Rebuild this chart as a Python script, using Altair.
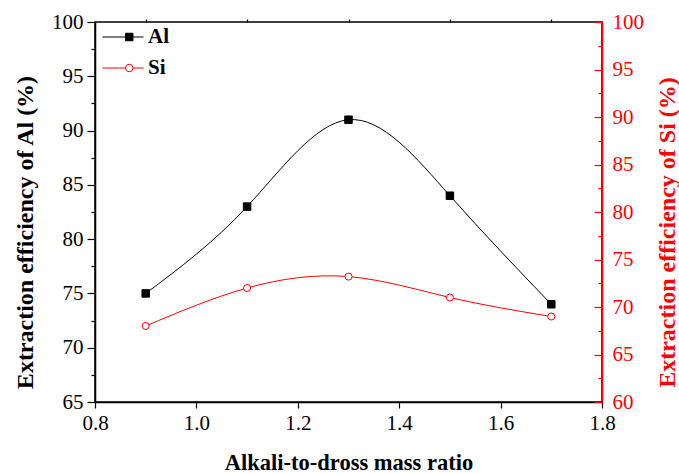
import altair as alt
import pandas as pd

ratio = [0.9, 1.1, 1.3, 1.5, 1.7]
al_eff = [75, 83, 91, 84, 74]
si_eff = [68, 72, 73.2, 71, 69]

x_major = [0.8, 1.0, 1.2, 1.4, 1.6, 1.8]
x_minor = [0.9, 1.1, 1.3, 1.5, 1.7]
al_major = [65, 70, 75, 80, 85, 90, 95, 100]
al_minor = [67.5, 72.5, 77.5, 82.5, 87.5, 92.5, 97.5]
si_major = [60, 65, 70, 75, 80, 85, 90, 95, 100]
si_minor = [62.5, 67.5, 72.5, 77.5, 82.5, 87.5, 92.5, 97.5]

df_al = pd.DataFrame({"ratio": ratio, "eff": al_eff, "series": "Al", "name": "Al-line"})
df_si = pd.DataFrame({"ratio": ratio, "eff": si_eff, "series": "Si", "name": "Si-line"})

FONT = "Liberation Serif"
RED = "#ff0000"
W, H = 507, 380

x_scale = alt.Scale(domain=[0.8, 1.8], nice=False, zero=False)
al_scale = alt.Scale(domain=[65, 100], nice=False, zero=False)
si_scale = alt.Scale(domain=[60, 100], nice=False, zero=False)

x_main = alt.X("ratio:Q", scale=x_scale, axis=alt.Axis(
    title="Alkali-to-dross mass ratio", values=x_major, format=".1f",
    labelFlush=False, labelOverlap=False, grid=False, tickSize=6, labelPadding=4,
    titleFontSize=22.5, titleY=67, titleBaseline="alphabetic"))
x_min = alt.X("ratio:Q", scale=x_scale, axis=alt.Axis(
    title=None, values=x_minor, labels=False, domain=False, grid=False, tickSize=3))
x_none = alt.X("ratio:Q", scale=x_scale, axis=None)

y_al_main = alt.Y("eff:Q", scale=al_scale, axis=alt.Axis(
    title="Extraction efficiency of Al (%)", orient="left", values=al_major, format="d",
    labelFlush=False, labelOverlap=False, grid=False, tickSize=8, labelPadding=4,
    titleFontSize=24, titleAngle=270, titleX=-70, titleY=210, titleBaseline="middle"))
y_al_min = alt.Y("eff:Q", scale=al_scale, axis=alt.Axis(
    title=None, orient="left", values=al_minor, labels=False, domain=False, grid=False, tickSize=4))

y_si_main = alt.Y("eff:Q", scale=si_scale, axis=alt.Axis(
    title="Extraction efficiency of Si (%)", orient="right", values=si_major, format="d",
    labelFlush=False, labelOverlap=False, grid=False, ticks=False, tickSize=0, labelPadding=10,
    domainColor=RED, labelColor=RED, titleColor=RED,
    titleFontSize=24, titleAngle=270, titleX=65, titleY=210, titleBaseline="middle"))
y_si_tmaj = alt.Y("eff:Q", scale=si_scale, axis=alt.Axis(
    title=None, orient="left", offset=-W, values=si_major, labels=False, domain=False,
    grid=False, tickSize=8, tickColor=RED))
y_si_tmin = alt.Y("eff:Q", scale=si_scale, axis=alt.Axis(
    title=None, orient="left", offset=-W, values=si_minor, labels=False, domain=False,
    grid=False, tickSize=4, tickColor=RED))

legend_line = alt.Legend(
    title=None, orient="none", legendX=7, legendY=5, padding=0,
    symbolType="stroke", symbolSize=1681, symbolStrokeWidth=1, clipHeight=20,
    rowPadding=10, labelOffset=4, labelFont=FONT, labelFontWeight="bold",
    labelFontSize=21, labelColor="black",
    labelExpr="split(datum.label, '-')[0]")
legend_mark = alt.Legend(
    title=None, orient="none", legendX=7, legendY=5, padding=0,
    symbolSize=56, symbolStrokeWidth=1, symbolOffset=16.75, clipHeight=20,
    rowPadding=10, labelOffset=38.5, labelFont=FONT, labelFontWeight="bold",
    labelFontSize=21, labelOpacity=0)

dom = ["Al", "Si"]
color_enc = alt.Color("name:N", scale=alt.Scale(domain=["Al-line", "Si-line"], range=["black", RED]),
                      legend=legend_line)
fill_enc = alt.Fill("series:N", scale=alt.Scale(domain=dom, range=["black", "white"]), legend=legend_mark)
stroke_enc = alt.Stroke("series:N", scale=alt.Scale(domain=dom, range=["black", RED]), legend=legend_mark)
shape_enc = alt.Shape("series:N", scale=alt.Scale(domain=dom, range=["square", "circle"]), legend=legend_mark)

al_line = alt.Chart(df_al).mark_line(interpolate="natural", strokeWidth=1).encode(
    x=x_main, y=y_al_main, color=color_enc)
al_pts = alt.Chart(df_al).mark_point(filled=True, size=56, strokeWidth=1, opacity=1).encode(
    x=x_min, y=y_al_min, fill=fill_enc, stroke=stroke_enc, shape=shape_enc)

si_line = alt.Chart(df_si).mark_line(interpolate="natural", strokeWidth=1).encode(
    x=x_none, y=y_si_main, color=color_enc)
si_pts = alt.Chart(df_si).mark_point(filled=True, size=50, strokeWidth=1, opacity=1).encode(
    x=x_none, y=y_si_tmaj, fill=fill_enc, stroke=stroke_enc, shape=shape_enc)
si_aux = alt.Chart(df_si).mark_point(opacity=0, size=1).encode(x=x_none, y=y_si_tmin)

al_group = alt.layer(al_line, al_pts).resolve_axis(x="independent", y="independent")
si_group = alt.layer(si_line, si_pts, si_aux).resolve_axis(x="independent", y="independent")

chart = (
    alt.layer(al_group, si_group)
    .resolve_scale(y="independent")
    .resolve_axis(x="independent", y="independent")
    .properties(
        width=W,
        height=H,
        autosize=alt.AutoSizeParams(type="none"),
        padding={"left": 95, "top": 22, "right": 77, "bottom": 71},
        background="white",
    )
    .configure_view(stroke="black", strokeWidth=1.5)
    .configure_axis(
        labelFont=FONT,
        labelFontSize=21,
        labelColor="black",
        titleFont=FONT,
        titleFontSize=23,
        titleFontWeight="bold",
        titleColor="black",
        domainColor="black",
        domainWidth=1.5,
        tickColor="black",
        tickWidth=1.2,
    )
)

chart.save("out.html", embed_options={"renderer": "svg", "actions": False})
